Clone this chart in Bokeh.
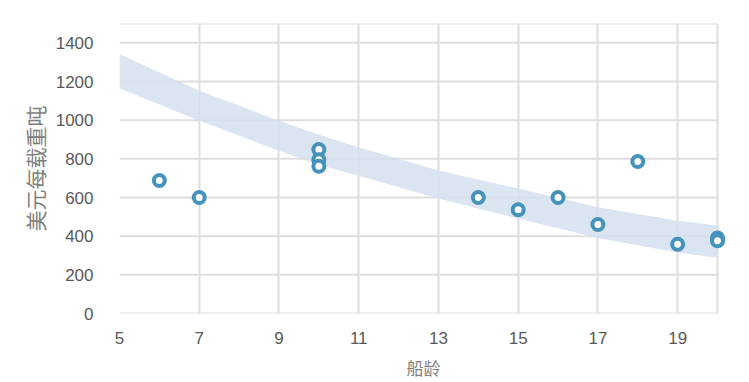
from bokeh.plotting import figure
from bokeh.models import Range1d, FixedTicker, ColumnDataSource
from bokeh.embed import file_html
from bokeh.resources import INLINE

# Scatter data: ship age vs USD per DWT
ship_age = [6, 7, 10, 10, 10, 14, 15, 16, 17, 18, 19, 20, 20]
usd_per_dwt = [688, 600, 848, 795, 762, 600, 537, 600, 460, 786, 358, 390, 376]

# Confidence band
band_x = [5, 7, 9, 10, 11, 13, 15, 17, 19, 20]
band_upper = [1342, 1152, 997, 925, 860, 740, 646, 550, 480, 455]
band_lower = [1165, 997, 842, 770, 713, 595, 491, 390, 315, 289]

x_ticks = [5, 7, 9, 11, 13, 15, 17, 19]
y_ticks = [0, 200, 400, 600, 800, 1000, 1200, 1400]
x_min, x_max = 5, 20
y_min, y_max = 0, 1500

GRID = "#dedede"

p = figure(width=749, height=382, output_backend="svg", toolbar_location=None,
           x_range=Range1d(x_min, 20.25), y_range=Range1d(y_min, y_max),
           min_border_left=119, min_border_right=22, min_border_top=23, min_border_bottom=69)

# horizontal gridlines + top border, limited to the x extent
h_levels = y_ticks + [y_max]
p.segment(x0=[x_min] * len(h_levels), x1=[x_max] * len(h_levels), y0=h_levels, y1=h_levels,
          line_color=GRID, line_width=2)
# right border
p.segment(x0=[x_max], x1=[x_max], y0=[y_min], y1=[y_max], line_color=GRID, line_width=2)

p.varea(x=band_x, y1=band_lower, y2=band_upper, fill_color="#d5dfee", fill_alpha=0.85)

src = ColumnDataSource(dict(x=ship_age, y=usd_per_dwt))
p.scatter(x="x", y="y", source=src, size=11, fill_color="white",
          line_color="#4592bb", line_width=4)

p.outline_line_color = None
p.ygrid.grid_line_color = None
p.xgrid.grid_line_color = GRID
p.xgrid.grid_line_width = 2
p.xaxis.ticker = FixedTicker(ticks=x_ticks)
p.yaxis.ticker = FixedTicker(ticks=y_ticks)
p.background_fill_color = "white"

for ax in (p.xaxis, p.yaxis):
    ax.axis_line_color = None
    ax.major_tick_line_color = None
    ax.minor_tick_line_color = None
    ax.major_label_text_font = "Liberation Sans"
    ax.major_label_text_font_size = "17px"
    ax.major_label_text_color = "#595959"
    ax.axis_label_text_font = "Noto Sans CJK SC"
    ax.axis_label_text_font_style = "normal"
    ax.axis_label_text_color = "#7f7f7f"

p.xaxis.axis_label = "船龄"
p.xaxis.axis_label_text_font_size = "17px"
p.xaxis.major_label_standoff = 12
p.xaxis.axis_label_standoff = 8

p.yaxis.axis_label = "美元每载重吨"
p.yaxis.axis_label_text_font_size = "21px"
p.yaxis.major_label_standoff = 20
p.yaxis.axis_label_standoff = 3

open("out.html", "w").write(file_html(p, INLINE))
